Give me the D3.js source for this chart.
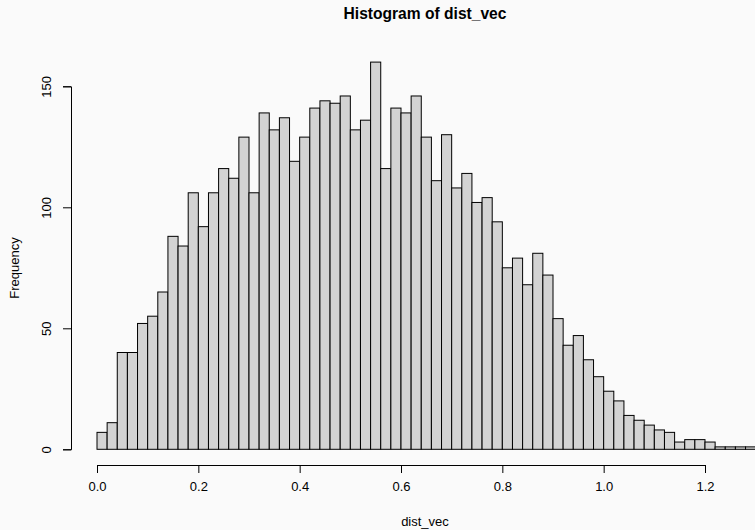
<!DOCTYPE html>
<html>
<head>
<meta charset="utf-8">
<script src="https://cdn.jsdelivr.net/npm/d3@7"></script>
<style>
  body { margin: 0; background: #fafafa; }
  text { font-family: "Liberation Sans", Arial, sans-serif; fill: #000; }
</style>
</head>
<body>
<svg id="chart" width="755" height="530"></svg>
<script>
// histogram of dist_vec, bins of width 0.02 from 0 to 1.30
var binStart = 0, binWidth = 0.02;
var counts = [7, 11, 40, 40, 52, 55, 65, 88, 84, 106,
              92, 106, 116, 112, 129, 106, 139, 132, 137, 119,
              129, 141, 144, 143, 146, 132, 136, 160, 116, 141,
              139, 146, 129, 111, 130, 108, 114, 102, 104, 94,
              75, 79, 68, 81, 72, 54, 43, 47, 37, 30,
              24, 20, 14, 12, 10, 8, 7, 3, 4, 4,
              3, 1, 1, 1, 1];
var xTicks = [0, 0.2, 0.4, 0.6, 0.8, 1.0, 1.2];
var yTicks = [0, 50, 100, 150];

var svg = d3.select("#chart");

var x = d3.scaleLinear().domain([0, 1.2]).range([97, 705]);
var y = d3.scaleLinear().domain([0, 150]).range([449.3, 86.3]);

var bins = counts.map((c, i) => ({x0: binStart + i * binWidth, x1: binStart + (i + 1) * binWidth, n: c}));

svg.append("g").selectAll("rect")
    .data(bins)
    .enter().append("rect")
    .attr("x", d => x(d.x0))
    .attr("y", d => y(d.n))
    .attr("width", d => x(d.x1) - x(d.x0))
    .attr("height", d => y(0) - y(d.n))
    .attr("fill", "#d3d3d3")
    .attr("stroke", "#000")
    .attr("stroke-width", 1);

//x axis, R style (offset below the plot)
var xAxis = d3.axisBottom(x).tickValues(xTicks).tickFormat(d3.format(".1f")).tickSize(8).tickPadding(9);
var gx = svg.append("g").attr("transform", "translate(0,465)").call(xAxis);
gx.selectAll("text").style("font-size", "13px").style("font-family", "Liberation Sans, Arial, sans-serif");
gx.select(".domain").attr("stroke", "#000");

//y axis, labels rotated
var yAxis = d3.axisLeft(y).tickValues(yTicks).tickSize(8).tickPadding(0);
var gy = svg.append("g").attr("transform", "translate(71,0)").call(yAxis);
gy.selectAll("text")
    .style("font-size", "13px")
    .style("font-family", "Liberation Sans, Arial, sans-serif")
    .attr("text-anchor", "middle")
    .attr("dy", null)
    .attr("x", null)
    .attr("transform", "translate(-20,0) rotate(-90)");

svg.append("text")
    .attr("x", 425).attr("y", 19)
    .attr("text-anchor", "middle")
    .style("font-size", "15.6px").style("font-weight", "bold")
    .text("Histogram of dist_vec");

svg.append("text")
    .attr("x", 425).attr("y", 526)
    .attr("text-anchor", "middle")
    .style("font-size", "13px")
    .text("dist_vec");

svg.append("text")
    .attr("transform", "translate(19,268) rotate(-90)")
    .attr("text-anchor", "middle")
    .style("font-size", "13px")
    .text("Frequency");
</script>
</body>
</html>
